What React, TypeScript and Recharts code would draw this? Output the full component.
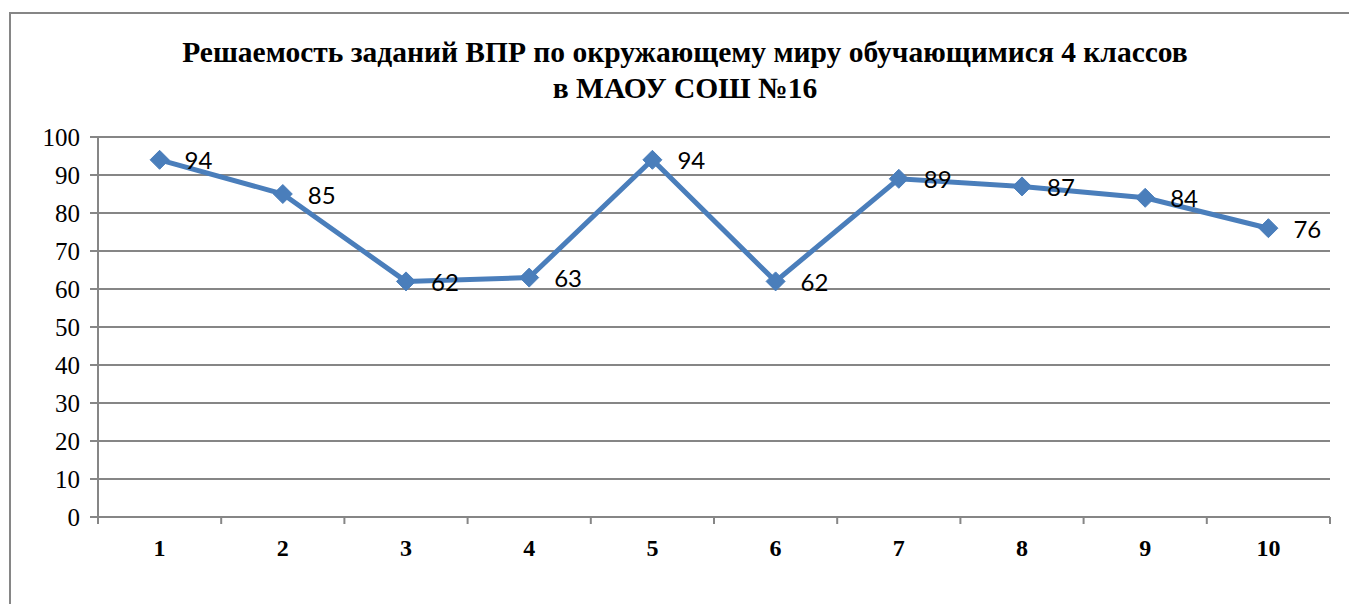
import React from "react";
import { LineChart, Line, XAxis, YAxis, CartesianGrid, LabelList } from "recharts";

const categories = [1, 2, 3, 4, 5, 6, 7, 8, 9, 10];
const values = [94, 85, 62, 63, 94, 62, 89, 87, 84, 76];
const yTicks = [0, 10, 20, 30, 40, 50, 60, 70, 80, 90, 100];
const boundaryTicks = [0.5, 1.5, 2.5, 3.5, 4.5, 5.5, 6.5, 7.5, 8.5, 9.5, 10.5];
const xDomain = [0.5, 10.5];
const titleLine1 = "Решаемость заданий ВПР по окружающему миру обучающимися 4 классов";
const titleLine2 = "в МАОУ СОШ №16";

const data = categories.map((c, i) => ({ name: c, value: values[i] }));
const allXTicks = [...boundaryTicks, ...categories].sort((a, b) => a - b);

const GREY = "#868686";
const BLUE = "#4A7EBB";

const Diamond = (props: any) => {
  const { cx, cy } = props;
  if (cx == null || cy == null) return null;
  const r = 9.5;
  return (
    <polygon
      points={`${cx},${cy - r} ${cx + r},${cy} ${cx},${cy + r} ${cx - r},${cy}`}
      fill={BLUE}
      stroke={BLUE}
      strokeWidth={1}
    />
  );
};

const DataLabel = (props: any) => {
  const { x, y, value } = props;
  return (
    <text
      x={x + 25}
      y={y}
      dominantBaseline="central"
      fontFamily="Lato, 'Open Sans', sans-serif"
      fontSize={24}
      fill="#000"
    >
      {value}
    </text>
  );
};

const XTick = (props: any) => {
  const { x, y, payload } = props;
  const v = payload.value;
  if (!Number.isInteger(v)) {
    return <line x1={x} y1={y} x2={x} y2={y + 7} stroke={GREY} strokeWidth={2} />;
  }
  return (
    <text
      x={x}
      y={y + 39}
      textAnchor="middle"
      fontFamily="'Liberation Serif', 'Times New Roman', serif"
      fontWeight="bold"
      fontSize={24}
      fill="#000"
    >
      {v}
    </text>
  );
};

export default function App() {
  return (
    <div style={{ position: "absolute", left: 0, top: 0, width: 1349, height: 604, background: "#fff", overflow: "hidden" }}>
      <div
        style={{
          position: "absolute",
          left: 9,
          top: 12,
          width: 1400,
          height: 700,
          border: `2px solid ${GREY}`,
          boxSizing: "border-box",
        }}
      />
      <div
        style={{
          position: "absolute",
          left: 9,
          top: 34,
          width: 1352,
          textAlign: "center",
          fontFamily: "'Liberation Serif', 'Times New Roman', serif",
          fontWeight: "bold",
          fontSize: 29.5,
          lineHeight: "36px",
          color: "#000",
        }}
      >
        <div>{titleLine1}</div>
        <div>{titleLine2}</div>
      </div>
      <div style={{ position: "absolute", left: 0, top: 0 }}>
        <LineChart width={1349} height={604} data={data} margin={{ top: 137, right: 19, bottom: 47, left: 0 }}>
          <CartesianGrid horizontal={true} vertical={false} stroke={GREY} strokeWidth={2} />
          <XAxis
            dataKey="name"
            type="number"
            domain={xDomain}
            ticks={allXTicks}
            interval={0}
            stroke={GREY}
            strokeWidth={2}
            tickLine={false}
            height={40}
            tickSize={0}
            tickMargin={0}
            allowDataOverflow
            tick={<XTick />}
          />
          <YAxis
            width={98}
            domain={[0, 100]}
            ticks={yTicks}
            interval={0}
            stroke={GREY}
            strokeWidth={2}
            tickSize={8}
            tickMargin={10}
            tick={{
              fill: "#000",
              fontFamily: "'Liberation Serif', 'Times New Roman', serif",
              fontSize: 25,
            }}
          />
          <Line
            dataKey="value"
            stroke={BLUE}
            strokeWidth={5}
            dot={<Diamond />}
            activeDot={false}
            isAnimationActive={false}
          >
            <LabelList dataKey="value" content={<DataLabel />} />
          </Line>
        </LineChart>
      </div>
    </div>
  );
}
